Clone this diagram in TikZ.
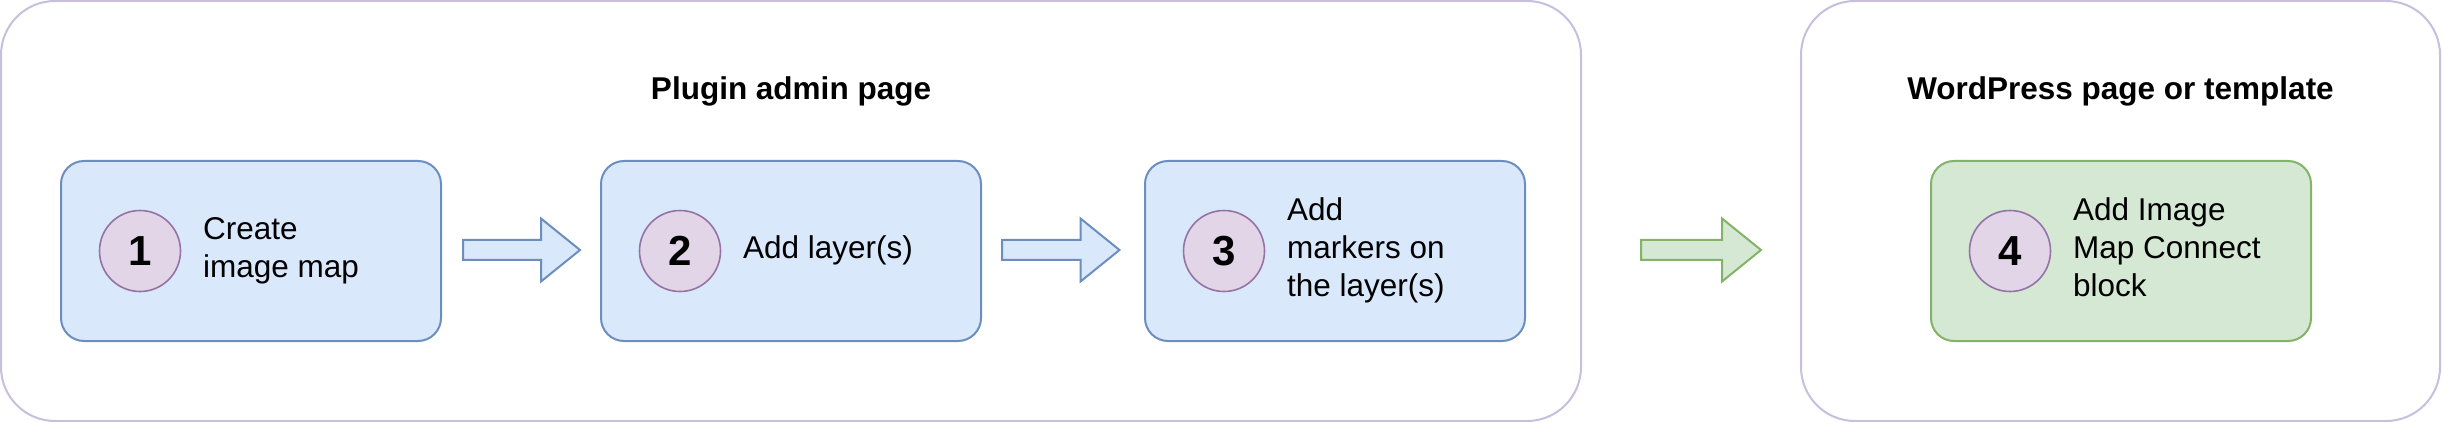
\documentclass[tikz,border=0pt]{standalone}
\usepackage{fontspec}
\setmainfont{Liberation Sans}
\usetikzlibrary{calc}
\definecolor{blueF}{HTML}{DAE8FC}
\definecolor{blueD}{HTML}{6C8EBF}
\definecolor{greenF}{HTML}{D5E8D4}
\definecolor{greenD}{HTML}{82B366}
\definecolor{purF}{HTML}{E1D5E7}
\definecolor{purD}{HTML}{9673A6}
\definecolor{lavD}{HTML}{C8BEDE}
\newcommand\fatarrow[3]{%
  \draw[#1] let \p1=(#2), \p2=(#3) in
    (\x1,{\y1+10pt}) -- ({\x2-39pt},{\y1+10pt}) -- ({\x2-39pt},{\y1+31.5pt})
    -- (\x2,\y1) -- ({\x2-39pt},{\y1-31.5pt}) -- ({\x2-39pt},{\y1-10pt})
    -- (\x1,{\y1-10pt}) -- cycle;}
\tikzset{
  outerbox/.style={draw=lavD, line width=2pt, rounded corners=54pt, fill=white,
    minimum width=1580pt, minimum height=420pt, inner sep=0pt},
  stepbox/.style={line width=2pt, rounded corners=23pt,
    minimum width=380pt, minimum height=180pt, inner sep=0pt},
  bluebox/.style={stepbox, draw=blueD, fill=blueF},
  greenbox/.style={stepbox, draw=greenD, fill=greenF},
  numcircle/.style={circle, draw=purD, fill=purF, line width=1.6pt,
    minimum size=81pt, inner sep=0pt, font=\fontsize{42}{50}\selectfont\bfseries},
  steptext/.style={anchor=west, align=left, inner sep=0pt,
    font=\fontsize{31.5}{38}\selectfont},
  titletext/.style={anchor=base, inner sep=0pt,
    font=\fontsize{31.5}{38}\selectfont\bfseries},
  bluearrow/.style={draw=blueD, fill=blueF, line width=2pt, line join=miter},
  greenarrow/.style={draw=greenD, fill=greenF, line width=2pt, line join=miter},
}
\begin{document}
\begin{tikzpicture}[x=1pt, y=-1pt]
\useasboundingbox (0,0) rectangle (2442,422);
% containers
\node[outerbox] (o1) at (791,211) {};
\node[outerbox, minimum width=639pt] (o2) at (2120.5,211) {};
\node[titletext] (h1) at (791,100) {Plugin admin page};
\node[titletext] (h2) at (2120.5,99.5) {WordPress page or template};
% steps
\node[bluebox] (s1) at (251,251) {};
\node[bluebox] (s2) at (791,251) {};
\node[bluebox] (s3) at (1335,251) {};
\node[greenbox] (s4) at (2121,251) {};
\node[numcircle] (c1) at ($(s1.west)+(80,0)$) {1};
\node[numcircle] (c2) at ($(s2.west)+(80,0)$) {2};
\node[numcircle] (c3) at ($(s3.west)+(80,0)$) {3};
\node[numcircle] (c4) at ($(s4.west)+(80,0)$) {4};
\node[steptext] (t1) at ($(s1.west)+(143,0)$) {\strut Create\\\strut image map};
\node[steptext] (t2) at ($(s2.west)+(143,0)$) {\strut Add layer(s)};
\node[steptext] (t3) at ($(s3.west)+(143,0)$) {\strut Add\\\strut markers on\\\strut the layer(s)};
\node[steptext] (t4) at ($(s4.west)+(143,0)$) {\strut Add Image\\\strut Map Connect\\\strut block};
% arrows
\coordinate (a1s) at ($(s1.east)+(21,-1)$);
\coordinate (a1e) at ($(s2.west)+(-20,-1)$);
\coordinate (a2s) at ($(s2.east)+(20,-1)$);
\coordinate (a2e) at ($(s3.west)+(-24.5,-1)$);
\coordinate (g1s) at (1641,250);
\coordinate (g1e) at (1761,250);
\fatarrow{bluearrow}{a1s}{a1e}
\fatarrow{bluearrow}{a2s}{a2e}
\fatarrow{greenarrow}{g1s}{g1e}
\end{tikzpicture}
\end{document}
